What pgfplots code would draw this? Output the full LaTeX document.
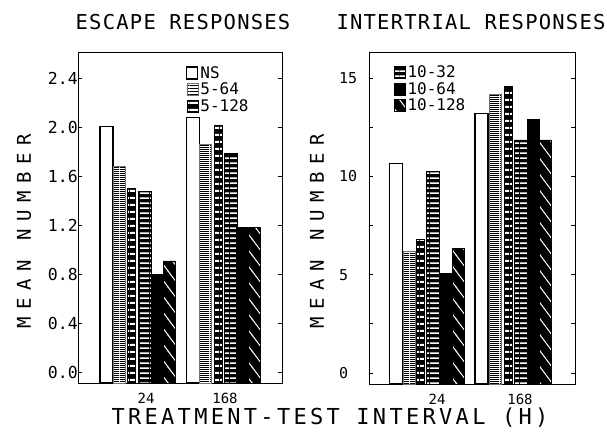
\documentclass[border=0pt]{standalone}
\usepackage{fontspec}
\setmainfont{DejaVu Sans Mono}
\newfontfamily\titlefont[LetterSpace=6]{DejaVu Sans Mono}
\newfontfamily\ylabfont[LetterSpace=40]{DejaVu Sans Mono}
\newfontfamily\xlabfont[LetterSpace=15]{DejaVu Sans Mono}
\usepackage{pgfplots}
\pgfplotsset{compat=1.18}
\usetikzlibrary{patterns}

% fine horizontal lines (period 2.4pt)
\pgfdeclarepatternformonly{finelines}{\pgfpointorigin}{\pgfqpoint{10pt}{2.4pt}}{\pgfqpoint{10pt}{2.4pt}}{%
  \pgfpathrectangle{\pgfpointorigin}{\pgfqpoint{10pt}{1pt}}\pgfusepath{fill}}
% stripes, period 5.3pt
\pgfdeclarepatternformonly{stripeA}{\pgfpointorigin}{\pgfqpoint{10pt}{5.3pt}}{\pgfqpoint{10pt}{5.3pt}}{%
  \pgfpathrectangle{\pgfpointorigin}{\pgfqpoint{10pt}{1.8pt}}\pgfusepath{fill}}
% stripes, period 7.3pt
\pgfdeclarepatternformonly{stripeB}{\pgfpointorigin}{\pgfqpoint{10pt}{7.3pt}}{\pgfqpoint{10pt}{7.3pt}}{%
  \pgfpathrectangle{\pgfpointorigin}{\pgfqpoint{10pt}{2.4pt}}\pgfusepath{fill}}
% sparse diagonal lines
\pgfdeclarepatternformonly{sparsediag}{\pgfqpoint{-1pt}{-1pt}}{\pgfqpoint{13pt}{17pt}}{\pgfqpoint{12pt}{16pt}}{%
  \pgfsetlinewidth{1pt}\pgfpathmoveto{\pgfqpoint{-0.75pt}{17pt}}\pgfpathlineto{\pgfqpoint{12.75pt}{-1pt}}\pgfusepath{stroke}}

\pgfplotsset{
  panel/.style={
    scale only axis,
    axis line style={line width=1pt},
    tick align=inside,
    major tick length=4pt,
    every tick/.style={black, line width=0.8pt},
    xtick style={draw=none},
    xticklabel style={font=\fontsize{14}{15}\selectfont, inner sep=0pt, anchor=north, yshift=-10pt},
    /pgf/number format/assume math mode=true,
    legend style={draw=none, fill=none, inner sep=0pt, row sep=0pt,
      font=\fontsize{16}{16}\selectfont, nodes={inner xsep=2pt, inner ysep=1.6pt}},
    legend cell align=left,
  },
  barbase/.style={ybar, bar shift=0pt,
    legend image code/.code={\draw[##1] (0pt,-6pt) rectangle (11pt,6pt);}},
  sNS/.style={barbase, bar width=13, fill=white, draw=black, line width=1.1pt},
  sA/.style={barbase, bar width=12, draw=black!55, line width=0.4pt, pattern=finelines, pattern color=black},
  sB/.style={barbase, bar width=8, fill=black, draw=black, line width=0.6pt, postaction={pattern=stripeB, pattern color=white}},
  sC/.style={barbase, bar width=13, fill=black, draw=black, line width=0.4pt, postaction={pattern=stripeA, pattern color=white}},
  sD/.style={barbase, bar width=12, fill=black, draw=black, line width=0.4pt},
  sE/.style={barbase, bar width=12, fill=black, draw=black, line width=0.4pt, postaction={pattern=sparsediag, pattern color=white}},
}

\begin{document}
\begin{tikzpicture}
\useasboundingbox (0,0) rectangle (607pt,431pt);

% ---------------- Escape responses ----------------
\begin{axis}[panel,
  at={(78pt,48pt)}, anchor=south west,
  width=204pt, height=330pt,
  xmin=78, xmax=282,
  ymin=-0.09, ymax=2.61,
  y coord trafo/.code={\pgfmathparse{#1+0.09}},
  y coord inv trafo/.code={\pgfmathparse{#1-0.09}},
  ytick={0,0.4,0.8,1.2,1.6,2.0,2.4},
  yticklabels={0.0,0.4,0.8,1.2,1.6,2.0,2.4},
  yticklabel style={font=\fontsize{16.5}{18}\selectfont, inner sep=0pt},
  xtick={146,225}, xticklabels={24,168},
  legend style={at={(0.53,0.965)}, anchor=north west},
]
\addplot[sNS] coordinates {(106.5,2.01) (193,2.085)};
\addplot[sA]  coordinates {(119.5,1.68) (205.5,1.86)};
\addplot[sB]  coordinates {(131.5,1.50) (218,2.015)};
\addplot[sC]  coordinates {(144.5,1.48) (230.5,1.79)};
\addplot[sD]  coordinates {(157.5,0.80) (242.5,1.185)};
\addplot[sE]  coordinates {(169.5,0.91) (254,1.185)};
\legend{NS,5-64,5-128}
\end{axis}

% ---------------- Intertrial responses ----------------
\begin{axis}[panel,
  at={(369pt,47pt)}, anchor=south west,
  width=206pt, height=331pt,
  xmin=369, xmax=575,
  ymin=-0.56, ymax=16.27,
  y coord trafo/.code={\pgfmathparse{#1+0.56}},
  y coord inv trafo/.code={\pgfmathparse{#1-0.56}},
  ytick={0,2.5,5,7.5,10,12.5,15},
  yticklabels={0,,5,,10,,15},
  yticklabel style={font=\fontsize{15}{16}\selectfont, inner sep=0pt, anchor=west, xshift=-30pt},
  xtick={437,520}, xticklabels={24,168},
  legend style={at={(0.121,0.967)}, anchor=north west},
]
\addplot[sNS, forget plot] coordinates {(396,10.66) (481.5,13.2)};
\addplot[sA, forget plot]  coordinates {(409.5,6.2) (495.5,14.17)};
\addplot[sB, forget plot]  coordinates {(420.5,6.8) (508.5,14.59)};
\addplot[sC]  coordinates {(433,10.27) (520.5,11.85)};
\addplot[sD]  coordinates {(445.5,5.07) (533,12.9)};
\addplot[sE]  coordinates {(458.5,6.34) (545,11.85)};
\legend{10-32,10-64,10-128}
\end{axis}

% titles and labels
\node[anchor=base, font=\titlefont\fontsize{20.5}{22}\selectfont, inner sep=0pt] at (183pt,401pt) {ESCAPE RESPONSES};
\node[anchor=base, font=\titlefont\fontsize{20.5}{22}\selectfont, inner sep=0pt] at (471pt,401pt) {INTERTRIAL RESPONSES};
\node[rotate=90, font=\ylabfont\fontsize{19}{19}\selectfont, inner sep=0pt] at (24pt,200pt) {MEAN NUMBER};
\node[rotate=90, font=\ylabfont\fontsize{19}{19}\selectfont, inner sep=0pt] at (317pt,200pt) {MEAN NUMBER};
\node[anchor=base, font=\xlabfont\fontsize{22}{24}\selectfont, inner sep=0pt] at (330pt,6.5pt) {TREATMENT-TEST INTERVAL (H)};
\end{tikzpicture}
\end{document}
